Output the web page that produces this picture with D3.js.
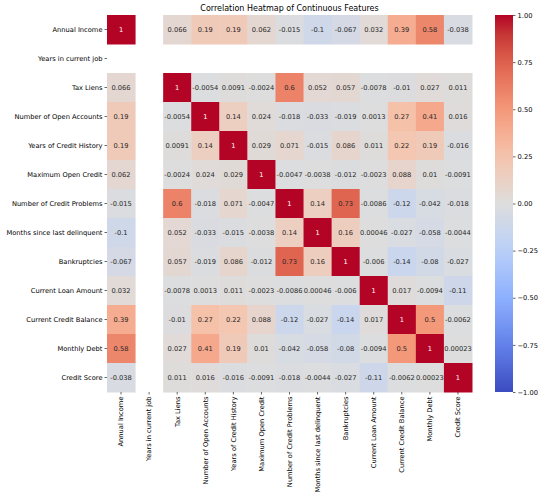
<!DOCTYPE html>
<html>
<head>
<meta charset="utf-8">
<script src="https://cdn.jsdelivr.net/npm/d3@7"></script>
<style>
  body { margin: 0; background: #fff; }
  text { font-family: "DejaVu Sans", sans-serif; }
</style>
</head>
<body>
<svg id="chart" width="544" height="500"></svg>
<script>
var features = ["Annual Income", "Years in current job", "Tax Liens", "Number of Open Accounts",
  "Years of Credit History", "Maximum Open Credit", "Number of Credit Problems",
  "Months since last delinquent", "Bankruptcies", "Current Loan Amount",
  "Current Credit Balance", "Monthly Debt", "Credit Score"];

// one row per feature, null = no correlation (constant column)
var rowAnnualIncome   = [1, null, 0.066, 0.19, 0.19, 0.062, -0.015, -0.1, -0.067, 0.032, 0.39, 0.58, -0.038];
var rowYearsJob       = [null, null, null, null, null, null, null, null, null, null, null, null, null];
var rowTaxLiens       = [0.066, null, 1, -0.0054, 0.0091, -0.0024, 0.6, 0.052, 0.057, -0.0078, -0.01, 0.027, 0.011];
var rowOpenAccounts   = [0.19, null, -0.0054, 1, 0.14, 0.024, -0.018, -0.033, -0.019, 0.0013, 0.27, 0.41, 0.016];
var rowCreditHistory  = [0.19, null, 0.0091, 0.14, 1, 0.029, 0.071, -0.015, 0.086, 0.011, 0.22, 0.19, -0.016];
var rowMaxOpenCredit  = [0.062, null, -0.0024, 0.024, 0.029, 1, -0.0047, -0.0038, -0.012, -0.0023, 0.088, 0.01, -0.0091];
var rowCreditProblems = [-0.015, null, 0.6, -0.018, 0.071, -0.0047, 1, 0.14, 0.73, -0.0086, -0.12, -0.042, -0.018];
var rowMonthsDelinq   = [-0.1, null, 0.052, -0.033, -0.015, -0.0038, 0.14, 1, 0.16, 0.00046, -0.027, -0.058, -0.0044];
var rowBankruptcies   = [-0.067, null, 0.057, -0.019, 0.086, -0.012, 0.73, 0.16, 1, -0.006, -0.14, -0.08, -0.027];
var rowLoanAmount     = [0.032, null, -0.0078, 0.0013, 0.011, -0.0023, -0.0086, 0.00046, -0.006, 1, 0.017, -0.0094, -0.11];
var rowCreditBalance  = [0.39, null, -0.01, 0.27, 0.22, 0.088, -0.12, -0.027, -0.14, 0.017, 1, 0.5, -0.0062];
var rowMonthlyDebt    = [0.58, null, 0.027, 0.41, 0.19, 0.01, -0.042, -0.058, -0.08, -0.0094, 0.5, 1, 0.00023];
var rowCreditScore    = [-0.038, null, 0.011, 0.016, -0.016, -0.0091, -0.018, -0.0044, -0.027, -0.11, -0.0062, 0.00023, 1];

var matrix = [rowAnnualIncome, rowYearsJob, rowTaxLiens, rowOpenAccounts, rowCreditHistory,
  rowMaxOpenCredit, rowCreditProblems, rowMonthsDelinq, rowBankruptcies, rowLoanAmount,
  rowCreditBalance, rowMonthlyDebt, rowCreditScore];

var colorbarTicks = [1, 0.75, 0.5, 0.25, 0, -0.25, -0.5, -0.75, -1];

// coolwarm stops
var coolwarm = d3.scaleLinear()
  .domain([-1, -0.75, -0.5, -0.25, 0, 0.25, 0.5, 0.75, 1])
  .range(["#3b4cc0", "#6282ea", "#8db0fe", "#b9d0f9", "#dddddd", "#f5c4ac", "#f4987a", "#de604d", "#b40426"])
  .interpolate(d3.interpolateLab)
  .clamp(true);

var loc = d3.formatLocale({decimal: ".", thousands: ",", grouping: [3], currency: ["", ""], minus: "-"});
var fmt = loc.format(".2~g");
var fmtBar = d3.format(".2f");

function draw() {
  var svg = d3.select("#chart");
  var left = 107, right = 472, top = 15, bottom = 392;

  var x = d3.scaleBand().domain(features).range([left, right]);
  var y = d3.scaleBand().domain(features).range([top, bottom]);

  var cells = [];
  matrix.forEach(function(row, i) {
    row.forEach(function(v, j) {
      if (v !== null) cells.push({r: features[i], c: features[j], v: v});
    });
  });

  svg.append("g").selectAll("rect").data(cells).enter().append("rect")
    .attr("x", function(d) { return x(d.c); })
    .attr("y", function(d) { return y(d.r); })
    .attr("width", x.bandwidth() + 0.5)
    .attr("height", y.bandwidth() + 0.5)
    .attr("fill", function(d) { return coolwarm(d.v); });

  svg.append("g").selectAll("text").data(cells).enter().append("text")
    .attr("x", function(d) { return x(d.c) + x.bandwidth() / 2; })
    .attr("y", function(d) { return y(d.r) + y.bandwidth() / 2; })
    .attr("dy", "0.35em")
    .attr("text-anchor", "middle")
    .attr("font-size", "6.7px")
    .attr("fill", function(d) {
      var c = d3.rgb(coolwarm(d.v));
      var lum = 0.2126 * c.r / 255 + 0.7152 * c.g / 255 + 0.0722 * c.b / 255;
      return lum < 0.408 ? "#fff" : "#262626";
    })
    .text(function(d) { return fmt(d.v); });

  // y axis
  var yAxis = svg.append("g").attr("transform", "translate(" + left + ",0)")
    .call(d3.axisLeft(y).tickSize(2.5).tickPadding(2));
  yAxis.select(".domain").remove();
  yAxis.selectAll("text").attr("font-size", "6.7px").attr("fill", "#000");
  yAxis.selectAll("line").attr("stroke", "#000").attr("stroke-width", 0.6);

  // x axis
  var xAxis = svg.append("g").attr("transform", "translate(0," + bottom + ")")
    .call(d3.axisBottom(x).tickSize(2.5).tickPadding(2));
  xAxis.select(".domain").remove();
  xAxis.selectAll("line").attr("stroke", "#000").attr("stroke-width", 0.6);
  xAxis.selectAll("text")
    .attr("font-size", "6.7px").attr("fill", "#000")
    .attr("transform", "rotate(-90)")
    .attr("text-anchor", "end")
    .attr("x", -4.5).attr("y", 0).attr("dy", "0.35em");

  // title
  svg.append("text").attr("x", (left + right) / 2).attr("y", 11)
    .attr("text-anchor", "middle").attr("font-size", "8px").attr("fill", "#000")
    .text("Correlation Heatmap of Continuous Features");

  // colorbar
  var cbX = 495, cbW = 18;
  var cbScale = d3.scaleLinear().domain([-1, 1]).range([bottom, top]);
  var grad = svg.append("defs").append("linearGradient").attr("id", "cb")
    .attr("x1", 0).attr("y1", 1).attr("x2", 0).attr("y2", 0);
  d3.range(0, 1.0001, 0.05).forEach(function(t) {
    grad.append("stop").attr("offset", t).attr("stop-color", coolwarm(-1 + 2 * t));
  });
  svg.append("rect").attr("x", cbX).attr("y", top).attr("width", cbW)
    .attr("height", bottom - top).attr("fill", "url(#cb)");
  var cbAxis = svg.append("g").attr("transform", "translate(" + (cbX + cbW) + ",0)")
    .call(d3.axisRight(cbScale).tickValues(colorbarTicks).tickSize(2.5).tickPadding(2)
      .tickFormat(function(d) { return fmtBar(d); }));
  cbAxis.select(".domain").remove();
  cbAxis.selectAll("line").attr("stroke", "#000").attr("stroke-width", 0.6);
  cbAxis.selectAll("text").attr("font-size", "6.7px").attr("fill", "#000");
}

draw();
</script>
</body>
</html>
